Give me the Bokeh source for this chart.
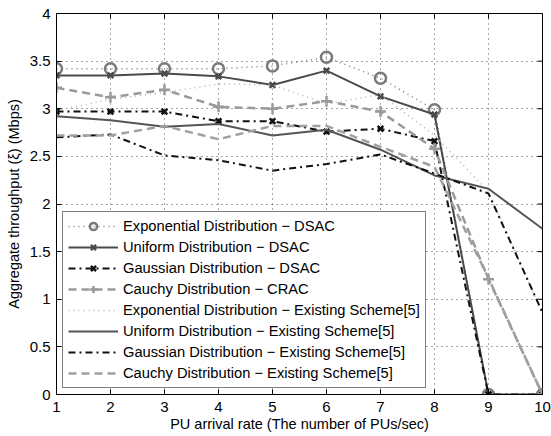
from bokeh.plotting import figure
from bokeh.models import Legend, LegendItem, Label, FixedTicker, Range1d
from bokeh.embed import file_html
from bokeh.resources import INLINE

x = [1, 2, 3, 4, 5, 6, 7, 8, 9, 10]
exp_dsac = [3.42, 3.42, 3.42, 3.42, 3.45, 3.54, 3.32, 2.99, 0.0, 0.0]
uni_dsac = [3.35, 3.35, 3.37, 3.34, 3.25, 3.40, 3.13, 2.94, 0.0, 0.0]
gau_dsac = [2.97, 2.97, 2.97, 2.87, 2.87, 2.76, 2.79, 2.66, 0.0, 0.0]
cau_crac = [3.22, 3.12, 3.20, 3.02, 3.00, 3.08, 2.97, 2.58, 1.21, 0.0]
exp_exist = [2.98, 3.10, 3.17, 3.26, 3.25, 3.05, 3.15, 2.72, 2.13, 0.85]
uni_exist = [2.92, 2.88, 2.81, 2.84, 2.72, 2.78, 2.57, 2.30, 2.16, 1.74]
gau_exist = [2.70, 2.73, 2.51, 2.46, 2.35, 2.42, 2.52, 2.32, 2.11, 0.86]
cau_exist = [2.72, 2.72, 2.82, 2.68, 2.82, 2.82, 2.60, 2.39, 1.22, 0.0]

labels = [
    "Exponential Distribution \u2212 DSAC",
    "Uniform Distribution \u2212 DSAC",
    "Gaussian Distribution \u2212 DSAC",
    "Cauchy Distribution \u2212 CRAC",
    "Exponential Distribution \u2212 Existing Scheme[5]",
    "Uniform Distribution \u2212 Existing Scheme[5]",
    "Gaussian Distribution \u2212 Existing Scheme[5]",
    "Cauchy Distribution \u2212 Existing Scheme[5]",
]
x_ticks = [1, 2, 3, 4, 5, 6, 7, 8, 9, 10]
y_ticks = [0, 0.5, 1, 1.5, 2, 2.5, 3, 3.5, 4]
X_MIN, X_MAX, Y_MIN, Y_MAX = 1, 10, 0, 4

FONT = "Liberation Sans"

p = figure(width=551, height=436, output_backend="svg", toolbar_location=None,
           x_range=Range1d(X_MIN, X_MAX), y_range=Range1d(Y_MIN, Y_MAX),
           min_border_left=56, min_border_right=9, min_border_top=13, min_border_bottom=42)
p.outline_line_color = "black"
p.outline_line_width = 1
p.background_fill_color = "white"

for ax in [p.xaxis[0], p.yaxis[0]]:
    ax.major_tick_in = 5
    ax.major_tick_out = 0
    ax.minor_tick_line_color = None
    ax.axis_line_color = "black"
    ax.major_label_text_font = FONT
    ax.major_label_text_font_size = "15px"
    ax.major_label_text_color = "black"
    ax.axis_label_text_font = FONT
    ax.axis_label_text_font_size = "14.5px"
    ax.axis_label_text_font_style = "normal"
    ax.axis_label_text_color = "black"

p.xaxis[0].ticker = FixedTicker(ticks=x_ticks)
p.yaxis[0].ticker = FixedTicker(ticks=y_ticks)
p.yaxis[0].major_label_overrides = {0: "0", 1: "1", 2: "2", 3: "3", 4: "4"}
p.xaxis[0].axis_label = "PU arrival rate (The number of PUs/sec)"
p.yaxis[0].axis_label = "Aggregate throughput (\u03be) (Mbps)"
p.xaxis[0].major_label_standoff = 7
p.xaxis[0].axis_label_standoff = 1
p.yaxis[0].major_label_standoff = 6
p.yaxis[0].axis_label_standoff = 5

p.grid.grid_line_color = "black"
p.grid.grid_line_dash = "1 4"
p.grid.grid_line_alpha = 0.7
p.xgrid.ticker = FixedTicker(ticks=x_ticks)
p.ygrid.ticker = FixedTicker(ticks=y_ticks)

# inward ticks on the right and top edges of the box (MATLAB style)
tx = 5 / 54.0   # ~5 px in x data units
ty = 5 / 95.0   # ~5 px in y data units
p.segment(x0=[X_MAX] * len(y_ticks), y0=y_ticks, x1=[X_MAX - tx] * len(y_ticks), y1=y_ticks,
          line_color="black", line_width=1)
p.segment(x0=x_ticks, y0=[Y_MAX] * len(x_ticks), x1=x_ticks, y1=[Y_MAX - ty] * len(x_ticks),
          line_color="black", line_width=1)

items = []

def series(y, color, dash, width, marker=None, msize=9, mline=2, label=""):
    rs = [p.line(x, y, line_color=color, line_dash=dash, line_width=width)]
    if marker:
        rs.append(p.scatter(x, y, marker=marker, size=msize, line_color=color,
                            fill_color=None, line_width=mline))
    items.append(LegendItem(label=label, renderers=rs))

series(exp_dsac, "#7a7a7a", "1 4", 1.5, "circle", 11, 2.5, labels[0])
series(uni_dsac, "#4a4a4a", "solid", 2, "x", 8, 2.5, labels[1])
series(gau_dsac, "#111111", "7 4 2 4", 2, "x", 8, 2.5, labels[2])
series(cau_crac, "#9a9a9a", "8 5", 2.5, "cross", 11, 2.5, labels[3])
series(exp_exist, "#b0b0b0", "1 4", 1.5, None, label=labels[4])
series(uni_exist, "#555555", "solid", 2, None, label=labels[5])
series(gau_exist, "#111111", "7 4 2 4", 2, None, label=labels[6])
series(cau_exist, "#a0a0a0", "8 5", 2.5, None, label=labels[7])

legend = Legend(items=items, location=(6, 6), label_text_font=FONT,
                label_text_font_size="14.7px", label_text_color="black",
                glyph_width=50, glyph_height=18, label_height=18, spacing=3,
                padding=5, margin=0, label_standoff=5,
                border_line_color="black", border_line_width=1,
                background_fill_color="white", background_fill_alpha=1)
p.add_layout(legend, "center")

p.add_layout(Label(x=506, y=0, x_units="screen", y_units="screen", text="x 10",
                   text_font=FONT, text_font_size="13px", text_color="black"))
p.add_layout(Label(x=533, y=8, x_units="screen", y_units="screen", text="\u22123",
                   text_font=FONT, text_font_size="10px", text_color="black"))

open("out.html", "w").write(file_html(p, INLINE))
